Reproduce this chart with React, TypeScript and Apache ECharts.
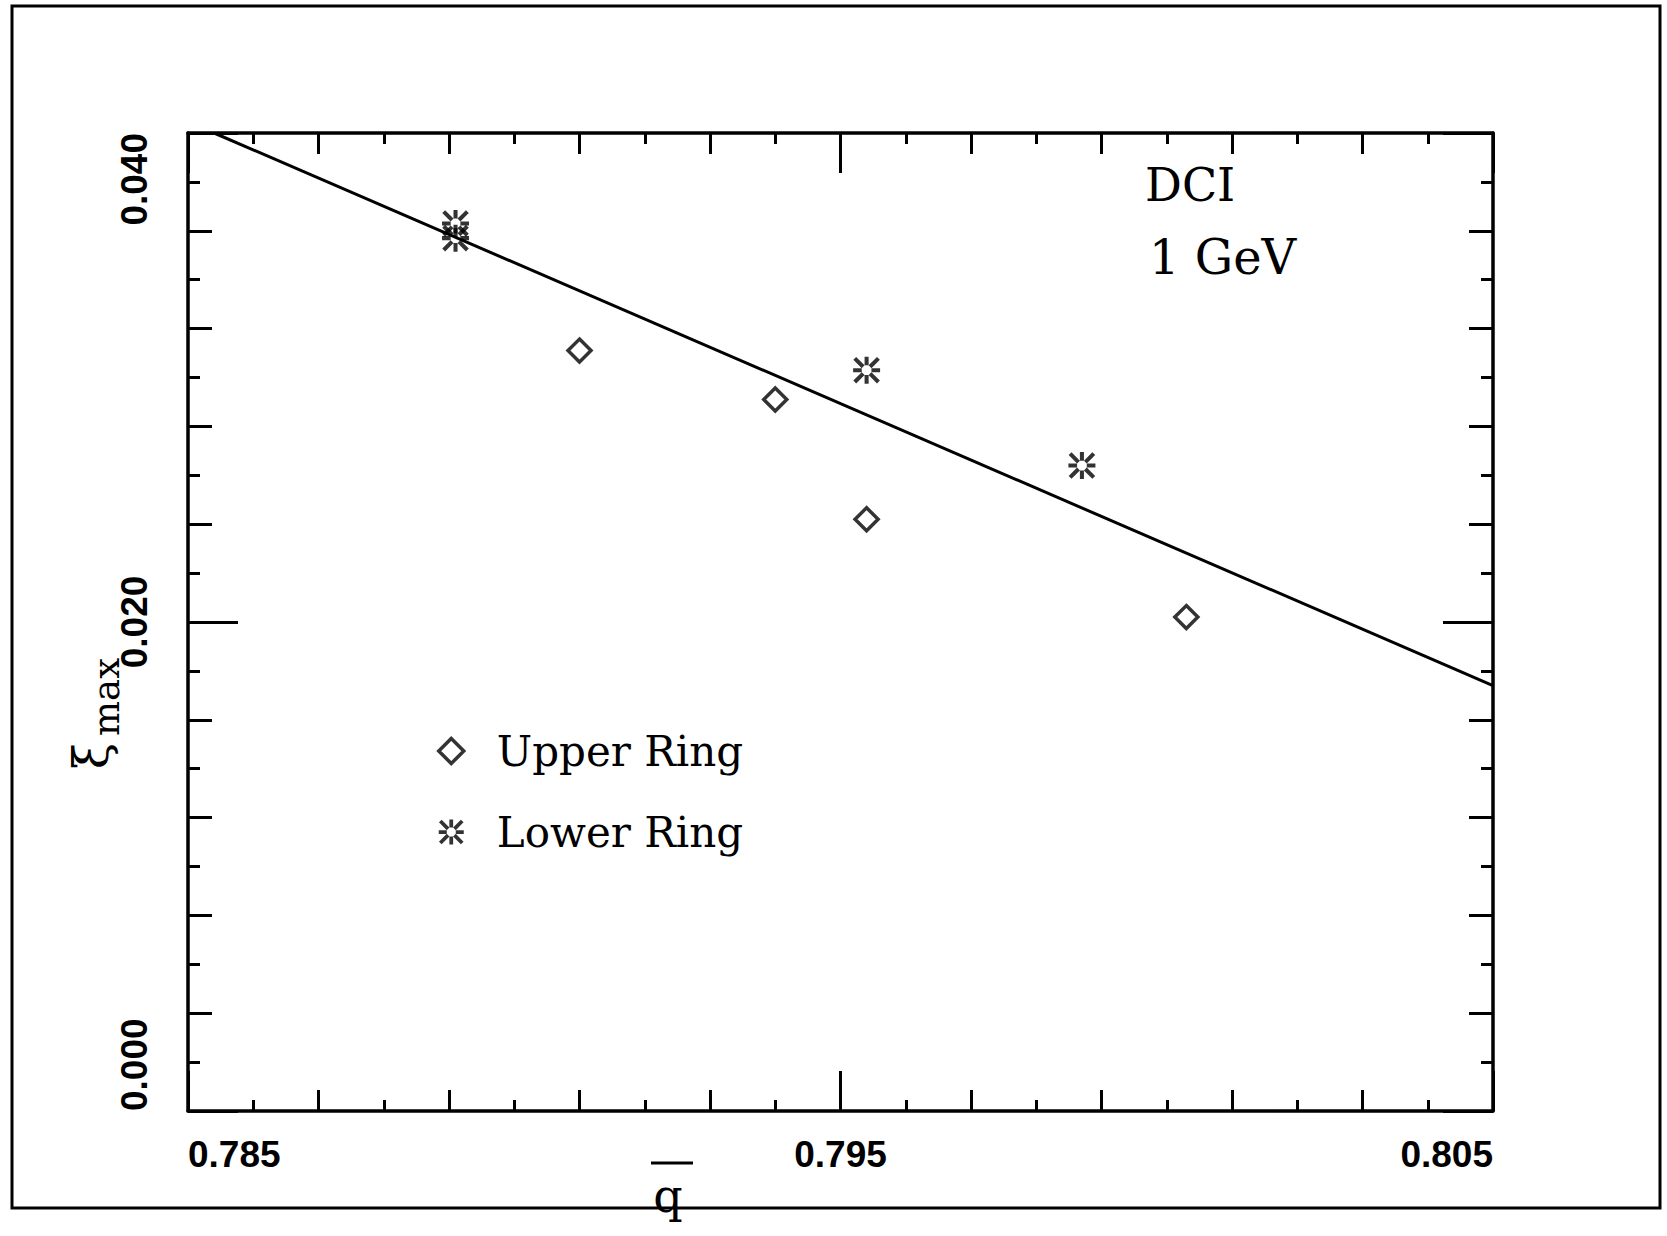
import React, { useEffect, useRef } from "react";
import * as echarts from "echarts";

// ---- data ----
const xTickLabels = ["0.785", "0.795", "0.805"];
const yTickLabels = ["0.000", "0.020", "0.040"];
const upperRing: number[][] = [
  [0.791, 0.0311],
  [0.794, 0.0291],
  [0.7954, 0.0242],
  [0.8003, 0.0202],
];
const lowerRing: number[][] = [
  [0.7891, 0.0363],
  [0.7891, 0.0357],
  [0.7954, 0.0303],
  [0.7987, 0.0264],
];
const fitLine: number[][] = [
  [0.7854, 0.04],
  [0.805, 0.0174],
];
const seriesNames = ["Upper Ring", "Lower Ring"];

// ---- style helpers ----
function asteriskPath(): string {
  const c = 50;
  const hw = 7.5;
  let d = "";
  for (let k = 0; k < 8; k++) {
    const a = (k * Math.PI) / 4;
    const r1 = 18;
    const r2 = k % 2 === 1 ? 62 : 50;
    const dx = Math.cos(a), dy = Math.sin(a);
    const px = -dy, py = dx;
    const pts = [
      [c + dx * r1 + px * hw, c + dy * r1 + py * hw],
      [c + dx * r2 + px * hw, c + dy * r2 + py * hw],
      [c + dx * r2 - px * hw, c + dy * r2 - py * hw],
      [c + dx * r1 - px * hw, c + dy * r1 - py * hw],
    ];
    d +=
      "M" +
      pts.map((p) => p[0].toFixed(2) + " " + p[1].toFixed(2)).join(" L") +
      " Z ";
  }
  return "path://" + d.trim();
}
const ASTER = asteriskPath();
const BLACK = "#000";
const labelFont = "'Liberation Sans', Arial, sans-serif";
const serifFont = "'DejaVu Serif', serif";

function xAxisDef(position: "top" | "bottom", major: boolean) {
  if (major) {
    return {
      type: "value",
      position,
      min: 0.785,
      max: 0.805,
      interval: 0.01,
      axisLine: { show: false, onZero: false },
      axisTick: { show: true, inside: true, length: 40, lineStyle: { color: BLACK, width: 3 } },
      axisLabel: { show: false },
      splitLine: { show: false },
    };
  }
  return {
    type: "value",
    position,
    min: 0.785,
    max: 0.805,
    interval: 0.002,
    axisLine: { show: true, onZero: false, lineStyle: { color: BLACK, width: 3.5 } },
    axisTick: { show: true, inside: true, length: 21, lineStyle: { color: BLACK, width: 3 } },
    minorTick: { show: true, splitNumber: 2, length: 11, lineStyle: { color: BLACK, width: 3 } },
    axisLabel:
      position === "bottom"
        ? {
            show: true,
            margin: 25,
            fontFamily: labelFont,
            fontWeight: "bold",
            fontSize: 37,
            color: BLACK,
            alignMinLabel: "left",
            alignMaxLabel: "right",
            showMinLabel: true,
            showMaxLabel: true,
            formatter: (v: number) => {
              const s = v.toFixed(3);
              return xTickLabels.includes(s) ? s : "";
            },
          }
        : { show: false },
    splitLine: { show: false },
  };
}

function yAxisDef(position: "left" | "right", major: boolean) {
  if (major) {
    return {
      type: "value",
      position,
      min: 0,
      max: 0.04,
      interval: 0.02,
      axisLine: { show: false, onZero: false },
      axisTick: { show: true, inside: true, length: 50, lineStyle: { color: BLACK, width: 3 } },
      axisLabel: { show: false },
      splitLine: { show: false },
    };
  }
  return {
    type: "value",
    position,
    min: 0,
    max: 0.04,
    interval: 0.004,
    axisLine: { show: true, onZero: false, lineStyle: { color: BLACK, width: 3.5 } },
    axisTick: { show: true, inside: true, length: 24, lineStyle: { color: BLACK, width: 3 } },
    minorTick: { show: true, splitNumber: 2, length: 12, lineStyle: { color: BLACK, width: 3 } },
    axisLabel:
      position === "left"
        ? {
            show: true,
            rotate: 90,
            margin: 35,
            fontFamily: labelFont,
            fontWeight: "bold",
            fontSize: 37,
            color: BLACK,
            alignMinLabel: "left",
            alignMaxLabel: "right",
            showMinLabel: true,
            showMaxLabel: true,
            formatter: (v: number) => {
              const s = v.toFixed(3);
              return yTickLabels.includes(s) ? s : "";
            },
          }
        : { show: false },
    splitLine: { show: false },
  };
}

export default function App() {
  const ref = useRef<HTMLDivElement>(null);
  useEffect(() => {
    if (!ref.current) return;
    const chart = echarts.init(ref.current, undefined, { renderer: "svg" });
    chart.setOption({
      animation: false,
      backgroundColor: "#fff",
      grid: { left: 188, top: 133, width: 1305, height: 978, containLabel: false },
      xAxis: [
        xAxisDef("bottom", false),
        xAxisDef("top", false),
        xAxisDef("bottom", true),
        xAxisDef("top", true),
      ],
      yAxis: [
        yAxisDef("left", false),
        yAxisDef("right", false),
        yAxisDef("left", true),
        yAxisDef("right", true),
      ],
      legend: {
        show: true,
        orient: "vertical",
        left: 432,
        top: 725,
        itemWidth: 25,
        itemHeight: 25,
        itemGap: 39,
        textStyle: {
          fontFamily: serifFont,
          fontSize: 42,
          color: BLACK,
          padding: [0, 0, 0, 28],
        },
        data: [
          {
            name: seriesNames[0],
            icon: "diamond",
            itemStyle: { color: "rgba(0,0,0,0)", borderColor: BLACK, borderWidth: 3.5 },
          },
          {
            name: seriesNames[1],
            icon: ASTER,
            itemStyle: { color: BLACK, borderWidth: 0 },
          },
        ],
      },
      series: [
        {
          type: "line",
          name: "fit",
          data: fitLine,
          xAxisIndex: 0,
          yAxisIndex: 0,
          showSymbol: false,
          symbol: "none",
          lineStyle: { color: BLACK, width: 3 },
          z: 2,
        },
        {
          type: "scatter",
          name: seriesNames[0],
          data: upperRing,
          xAxisIndex: 0,
          yAxisIndex: 0,
          symbol: "diamond",
          symbolSize: 23,
          itemStyle: { color: "rgba(0,0,0,0)", borderColor: BLACK, borderWidth: 3.5 },
          z: 3,
        },
        {
          type: "scatter",
          name: seriesNames[1],
          data: lowerRing,
          xAxisIndex: 0,
          yAxisIndex: 0,
          symbol: ASTER,
          symbolSize: 27,
          itemStyle: { color: BLACK, borderWidth: 0 },
          z: 3,
        },
      ],
      graphic: [
        {
          type: "rect",
          shape: { x: 12, y: 6, width: 1648, height: 1202 },
          style: { fill: "none", stroke: BLACK, lineWidth: 3 },
          silent: true,
        },
        {
          type: "text",
          x: 1145,
          y: 185,
          style: {
            text: "DCI",
            font: `46px ${serifFont}`,
            fill: BLACK,
            align: "left",
            verticalAlign: "middle",
          },
        },
        {
          type: "text",
          x: 1149,
          y: 257,
          style: {
            text: "1 GeV",
            font: `48px ${serifFont}`,
            fill: BLACK,
            align: "left",
            verticalAlign: "middle",
          },
        },
        {
          type: "text",
          x: 91,
          y: 756,
          rotation: Math.PI / 2,
          style: {
            text: "ξ",
            font: `48px ${serifFont}`,
            fill: BLACK,
            align: "center",
            verticalAlign: "middle",
          },
        },
        {
          type: "text",
          x: 106,
          y: 697,
          rotation: Math.PI / 2,
          style: {
            text: "max",
            font: `37px ${serifFont}`,
            fill: BLACK,
            align: "center",
            verticalAlign: "middle",
          },
        },
        {
          type: "line",
          shape: { x1: 651, y1: 1163, x2: 693, y2: 1163 },
          style: { stroke: BLACK, lineWidth: 3 },
        },
        {
          type: "text",
          x: 668,
          y: 1196,
          style: {
            text: "q",
            font: `46px ${serifFont}`,
            fill: BLACK,
            align: "center",
            verticalAlign: "middle",
          },
        },
      ],
    });
    return () => chart.dispose();
  }, []);
  return (
    <div
      ref={ref}
      style={{ position: "fixed", left: 0, top: 0, width: 1667, height: 1236, background: "#fff" }}
    />
  );
}
